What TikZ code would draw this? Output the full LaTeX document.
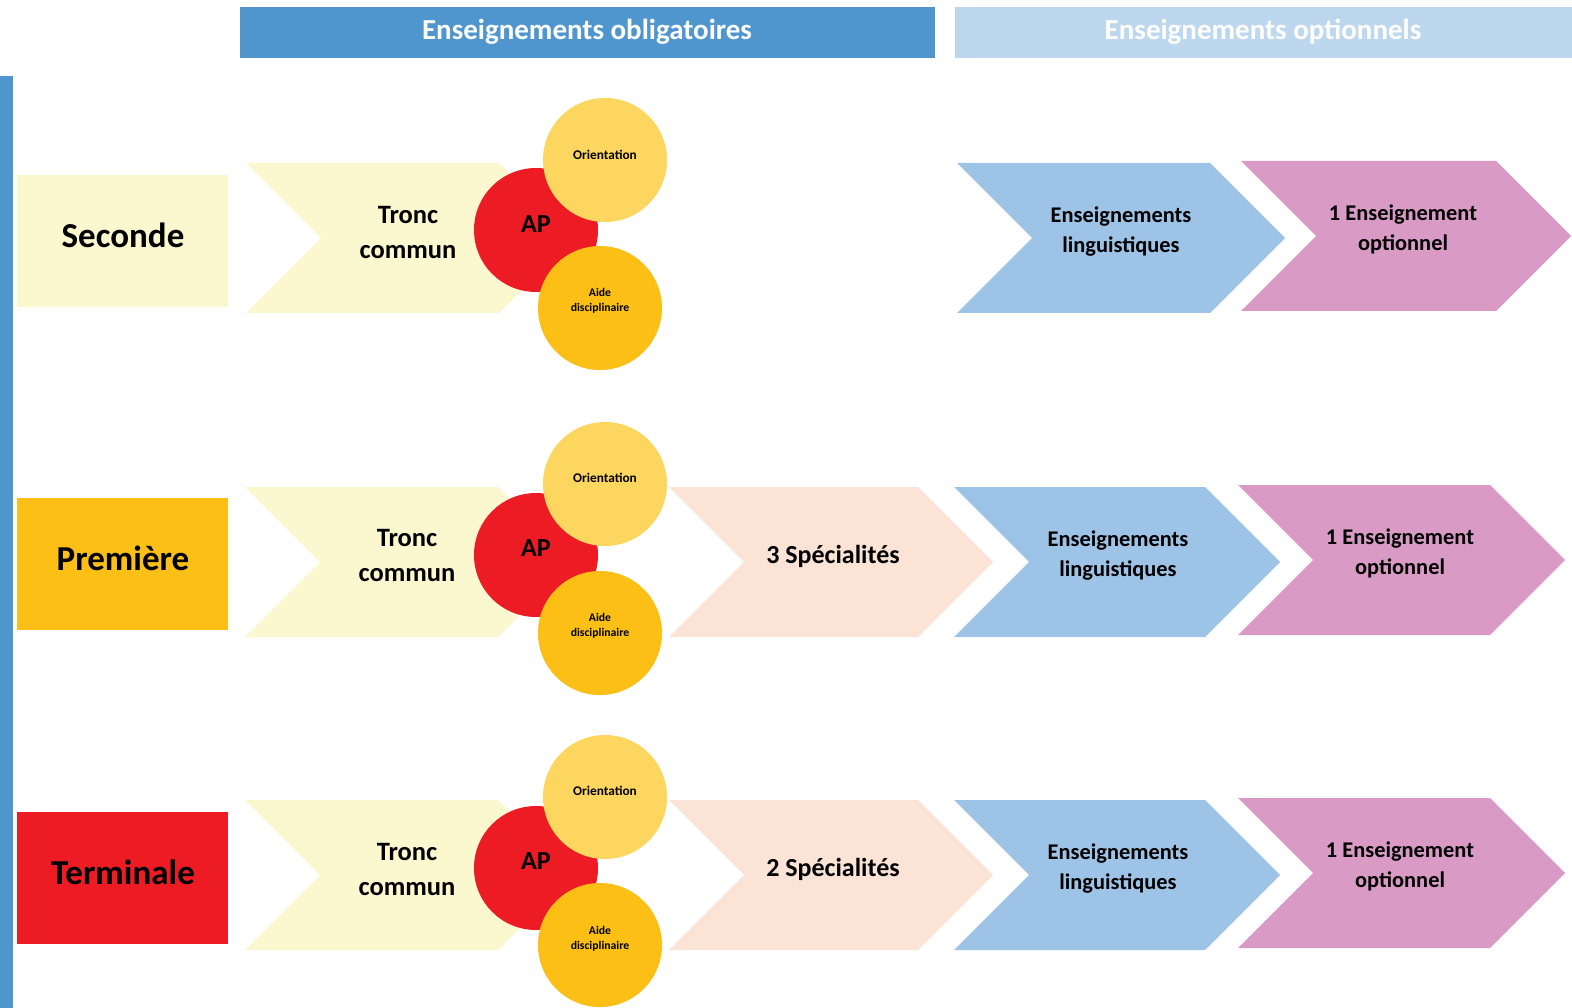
\documentclass[tikz,border=0pt]{standalone}
\usepackage{fontspec}
\setmainfont{Carlito}
\definecolor{hdrblue}{HTML}{4F96CF}
\definecolor{hdrlight}{HTML}{BDD7EE}
\definecolor{paleyel}{HTML}{FBF7CE}
\definecolor{amber}{HTML}{FBBF16}
\definecolor{apred}{HTML}{ED1C24}
\definecolor{orgold}{HTML}{FDD660}
\definecolor{peach}{HTML}{FBE3D6}
\definecolor{chevblue}{HTML}{9DC3E6}
\definecolor{chevpink}{HTML}{D99BC6}
\newcommand\mychev[5]{% left, top, width, height, colour
  \fill[#5] (#1,#2) -- ++(#3,0) -- ++(#4/2,#4/2) -- ++(-#4/2,#4/2) -- ++(-#3,0) -- ++(#4/2,-#4/2) -- cycle;}
\begin{document}
\begin{tikzpicture}[x=1pt,y=-1pt,
  hdr/.style={font=\fontsize{29}{32}\selectfont\bfseries, text=white},
  lbl/.style={font=\fontsize{35}{40}\selectfont\bfseries, text=black},
  tronc/.style={font=\fontsize{26.5}{35}\selectfont\bfseries, align=center},
  big/.style={font=\fontsize{22.4}{30}\selectfont\bfseries, align=center},
  spec/.style={font=\fontsize{26}{30}\selectfont\bfseries},
  aptext/.style={font=\fontsize{26}{28}\selectfont\bfseries},
  small/.style={font=\fontsize{13.3}{15}\selectfont\bfseries},
  tiny/.style={font=\fontsize{11.7}{15.5}\selectfont\bfseries, align=center},
  disc/.style={circle, minimum size=124pt, inner sep=0pt}]
\useasboundingbox (0,0) rectangle (1572,1008);
\fill[white] (0,0) rectangle (1572,1008);
% headers
\fill[hdrblue] (240,7) rectangle (935,58);
\node[hdr] (hobl) at (587,32) {Enseignements obligatoires};
\fill[hdrlight] (955,7) rectangle (1572,58);
\node[hdr] (hopt) at (1263,32) {Enseignements optionnels};
\fill[hdrblue] (0,76) rectangle (13,1008);

% ---------- Row 1 : Seconde
\fill[paleyel] (17,175) rectangle (228,307);
\node[lbl] (l1) at (123,235) {Seconde};
\mychev{246}{163}{253}{150}{paleyel}
\node[tronc] (t1) at (408,233) {Tronc\\commun};
\node[disc, fill=apred] (ap1) at (536,230) {};
\node[aptext] (apt1) at (536,224) {AP};
\node[disc, fill=orgold] (or1) at (605,160) {};
\node[small] (ort1) at (605,155) {Orientation};
\node[disc, fill=amber] (ai1) at (600,308) {};
\node[tiny] (ait1) at (600,301) {Aide\\disciplinaire};
\mychev{957}{163}{253}{150}{chevblue}
\node[big] (b1) at (1121,232) {Enseignements\\linguistiques};
\mychev{1241}{161}{255}{150}{chevpink}
\node[big] (p1) at (1403,229) {1 Enseignement\\optionnel};

% ---------- Row 2 : Premiere
\fill[amber] (17,498) rectangle (228,630);
\node[lbl] (l2) at (123,558) {Première};
\mychev{245}{487}{253}{150}{paleyel}
\node[tronc] (t2) at (407,556) {Tronc\\commun};
\node[disc, fill=apred] (ap2) at (536,555) {};
\node[aptext] (apt2) at (536,548) {AP};
\node[disc, fill=orgold] (or2) at (605,484) {};
\node[small] (ort2) at (605,478) {Orientation};
\node[disc, fill=amber] (ai2) at (600,633) {};
\node[tiny] (ait2) at (600,626) {Aide\\disciplinaire};
\mychev{669}{487}{249}{150}{peach}
\node[spec] (s2) at (833,556) {3 Spécialités};
\mychev{954}{487}{251}{150}{chevblue}
\node[big] (b2) at (1118,556) {Enseignements\\linguistiques};
\mychev{1238}{485}{252}{150}{chevpink}
\node[big] (p2) at (1400,553) {1 Enseignement\\optionnel};

% ---------- Row 3 : Terminale
\fill[apred] (17,812) rectangle (228,944);
\node[lbl] (l3) at (123,872) {Terminale};
\mychev{245}{800}{253}{150}{paleyel}
\node[tronc] (t3) at (407,869) {Tronc\\commun};
\node[disc, fill=apred] (ap3) at (536,868) {};
\node[aptext] (apt3) at (536,861) {AP};
\node[disc, fill=orgold] (or3) at (605,797) {};
\node[small] (ort3) at (605,791) {Orientation};
\node[disc, fill=amber] (ai3) at (600,945) {};
\node[tiny] (ait3) at (600,939) {Aide\\disciplinaire};
\mychev{669}{800}{249}{150}{peach}
\node[spec] (s3) at (833,869) {2 Spécialités};
\mychev{954}{800}{251}{150}{chevblue}
\node[big] (b3) at (1118,869) {Enseignements\\linguistiques};
\mychev{1238}{798}{252}{150}{chevpink}
\node[big] (p3) at (1400,866) {1 Enseignement\\optionnel};
\end{tikzpicture}
\end{document}
